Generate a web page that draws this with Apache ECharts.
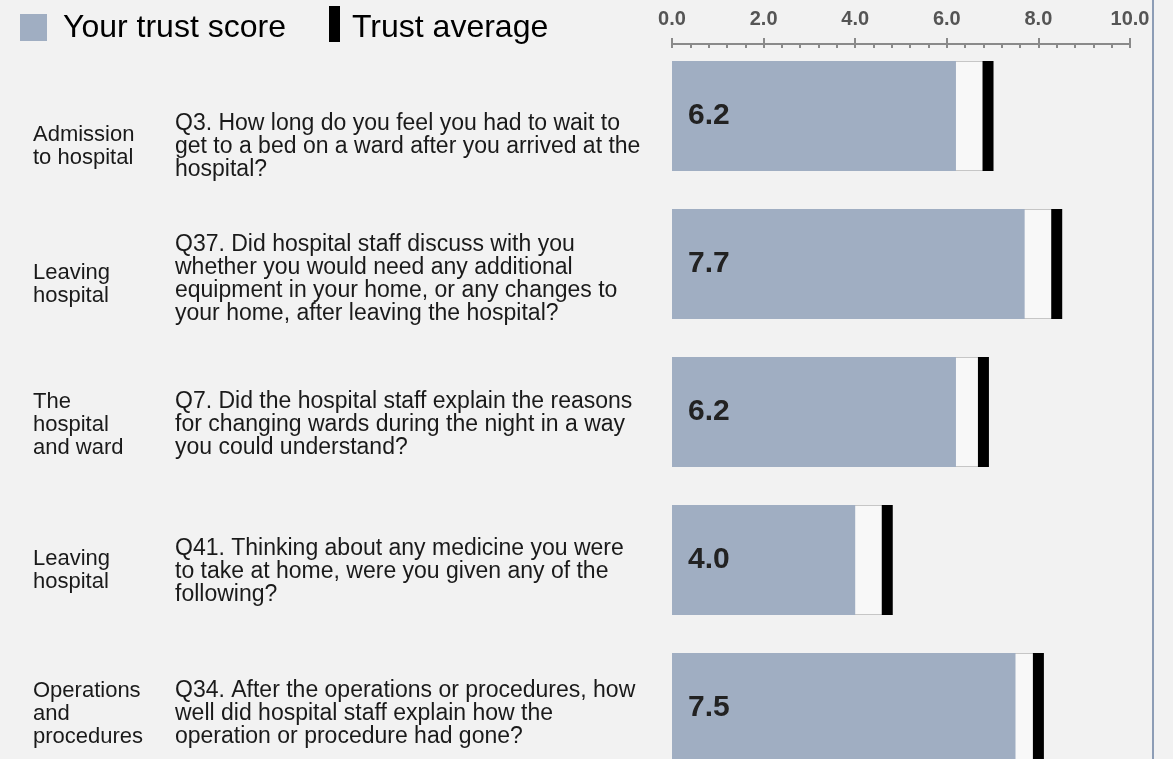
<!DOCTYPE html>
<html>
<head>
<meta charset="utf-8">
<script src="https://cdn.jsdelivr.net/npm/echarts@6/dist/echarts.min.js"></script>
<style>
  html, body { margin: 0; padding: 0; background: #f2f2f2; overflow: hidden; }
  /* taller than the window: the last row runs past the bottom edge */
  #chart { width: 1173px; height: 800px; }
</style>
</head>
<body>
<div id="chart"></div>
<script>
// section names shown in the first text column
const sections = [
  'Admission\nto hospital',
  'Leaving\nhospital',
  'The\nhospital\nand ward',
  'Leaving\nhospital',
  'Operations\nand\nprocedures'
]

const questions = [
  'Q3. How long do you feel you had to wait to\nget to a bed on a ward after you arrived at the\nhospital?',
  'Q37. Did hospital staff discuss with you\nwhether you would need any additional\nequipment in your home, or any changes to\nyour home, after leaving the hospital?',
  'Q7. Did the hospital staff explain the reasons\nfor changing wards during the night in a way\nyou could understand?',
  'Q41. Thinking about any medicine you were\nto take at home, were you given any of the\nfollowing?',
  'Q34. After the operations or procedures, how\nwell did hospital staff explain how the\noperation or procedure had gone?'
]

const trustScores = [6.2, 7.7, 6.2, 4.0, 7.5]
const trustAverages = [6.9, 8.4, 6.8, 4.7, 8.0]

const legendNames = ['Your trust score', 'Trust average']

// how far each text block sits below the middle of its bar (px)
const questionShift = [31, 15, 13, 12, 6]
const sectionShift = [30, 20, 13, 10, 6]

const FONT = 'Liberation Sans, Arial, Helvetica, sans-serif'
const BLUE = '#a0aec2'
const AXIS_GREY = '#8a8a8a'

const chart = echarts.init(document.getElementById('chart'))

// an invisible first line pushes the block down: half its height = shift
const spacerRich = (prefix, shifts) => {
  const rich = {}
  shifts.forEach((s, i) => {
    rich[prefix + i] = { height: s * 2, lineHeight: s * 2, fontSize: 1 }
  })
  return rich
}

const textLabel = (margin, size, prefix, shifts) => ({
  align: 'left',
  margin: margin,
  fontFamily: FONT,
  fontSize: size,
  lineHeight: 23,
  color: '#1a1a1a',
  formatter: (value, index) => `{${prefix}${index}| }\n${value}`,
  rich: spacerRich(prefix, shifts)
})

const option = {
  backgroundColor: '#f2f2f2',
  animation: false,
  grid: {
    left: 672,
    top: 42,
    width: 458,
    height: 740,
    outerBoundsMode: 'none'
  },
  xAxis: [
    {
      type: 'value',
      position: 'top',
      offset: -2,
      min: 0,
      max: 10,
      interval: 2,
      axisLine: { show: true, lineStyle: { color: AXIS_GREY, width: 2 } },
      axisTick: { show: true, length: 6, lineStyle: { color: AXIS_GREY, width: 2 } },
      axisLabel: {
        margin: 15,
        fontFamily: FONT,
        fontSize: 20,
        fontWeight: 'bold',
        color: '#555',
        formatter: (v) => v.toFixed(1)
      },
      splitLine: { show: false }
    },
    {
      // second copy of the scale, only for the short ticks below the line
      type: 'value',
      position: 'top',
      offset: -2,
      min: 0,
      max: 10,
      interval: 2,
      axisLine: { show: false },
      axisTick: { show: true, inside: true, length: 4, lineStyle: { color: AXIS_GREY, width: 2 } },
      minorTick: { show: true, splitNumber: 5, length: 4, lineStyle: { color: AXIS_GREY, width: 2 } },
      axisLabel: { show: false },
      splitLine: { show: false }
    }
  ],
  yAxis: [
    {
      type: 'category',
      inverse: true,
      data: questions,
      axisLine: { show: false },
      axisTick: { show: false },
      axisLabel: textLabel(497, 23, 'q', questionShift)
    },
    {
      type: 'category',
      inverse: true,
      position: 'left',
      data: sections,
      axisLine: { show: false },
      axisTick: { show: false },
      axisLabel: textLabel(639, 22, 's', sectionShift)
    }
  ],
  series: [
    {
      name: legendNames[1] + ' range',
      type: 'bar',
      data: trustAverages,
      barWidth: 110,
      silent: true,
      itemStyle: { color: '#f8f8f8', borderColor: '#c6c6c6', borderWidth: 1 },
      z: 1
    },
    {
      name: legendNames[0],
      type: 'bar',
      data: trustScores,
      barWidth: 110,
      barGap: '-100%',
      itemStyle: { color: BLUE },
      label: {
        show: true,
        position: 'insideLeft',
        distance: 16,
        fontFamily: FONT,
        fontSize: 30,
        fontWeight: 'bold',
        color: '#222',
        formatter: (p) => p.value.toFixed(1)
      },
      z: 2
    },
    {
      name: legendNames[1],
      type: 'scatter',
      symbol: 'rect',
      symbolSize: [11, 110],
      data: trustAverages.map((v, i) => [v, i]),
      itemStyle: { color: '#000', opacity: 1 },
      z: 3
    }
  ],
  graphic: [
    // legend
    { type: 'rect', left: 20, top: 14, shape: { width: 27, height: 27 }, style: { fill: BLUE } },
    {
      type: 'text', left: 63, top: 12,
      style: { text: legendNames[0], font: '32px ' + FONT, fill: '#000' }
    },
    { type: 'rect', left: 329, top: 6, shape: { width: 11, height: 36 }, style: { fill: '#000' } },
    {
      type: 'text', left: 352, top: 12,
      style: { text: legendNames[1], font: '32px ' + FONT, fill: '#000' }
    },
    // frame line on the right
    { type: 'rect', left: 1152, top: 0, shape: { width: 2, height: 800 }, style: { fill: '#8d9db6' } }
  ]
}

chart.setOption(option)

window.addEventListener('resize', () => chart.resize())
</script>
</body>
</html>
